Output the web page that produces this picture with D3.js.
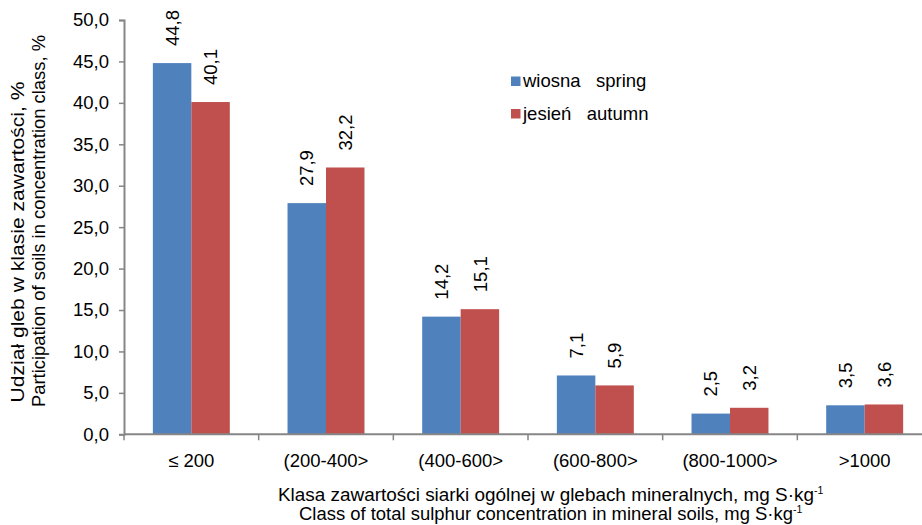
<!DOCTYPE html>
<html>
<head>
<meta charset="utf-8">
<script src="https://cdn.jsdelivr.net/npm/d3@7"></script>
<style>
  html, body { margin: 0; padding: 0; background: #fff; }
  svg { display: block; font-family: "Liberation Sans", Arial, sans-serif; }
</style>
</head>
<body>
<svg id="chart" width="922" height="525"></svg>
<script>
// Sulphur concentration classes and share of soils (%) per season
const categories = ["≤ 200", "(200-400>", "(400-600>", "(600-800>", "(800-1000>", ">1000"];
const spring = [44.8, 27.9, 14.2, 7.1, 2.5, 3.5];
const autumn = [40.1, 32.2, 15.1, 5.9, 3.2, 3.6];
const seriesNames = ["wiosna   spring", "jesień   autumn"];
const yTicks = [0, 5, 10, 15, 20, 25, 30, 35, 40, 45, 50];

const colors = ["#4F81BD", "#C0504D"];
const axisColor = "#868686";
const fs = 18.5;
const fmt = v => d3.format(".1f")(v).replace(".", ",");

const svg = d3.select("#chart");
const plot = { left: 124, right: 932, top: 20, bottom: 434.3 };

const x = d3.scaleBand().domain(categories).range([plot.left, plot.right]).paddingInner(0).paddingOuter(0);
const inner = d3.scaleBand().domain([0, 1]).range([0, x.bandwidth()]).paddingInner(0).paddingOuter(0.75);
const y = d3.scaleLinear().domain([0, 50]).range([plot.bottom, plot.top]);

const series = [spring, autumn];

// bars
series.forEach((vals, si) => {
  svg.append("g").selectAll("rect").data(vals).join("rect")
    .attr("x", (d, i) => x(categories[i]) + inner(si))
    .attr("width", inner.bandwidth())
    .attr("y", d => y(d))
    .attr("height", d => y(0) - y(d))
    .attr("fill", colors[si]);
});

// value labels, rotated above bars
series.forEach((vals, si) => {
  svg.append("g").selectAll("text").data(vals).join("text")
    .attr("transform", (d, i) => {
      const cx = x(categories[i]) + inner(si) + inner.bandwidth() / 2;
      return `translate(${cx},${y(d) - 17}) rotate(-90)`;
    })
    .attr("dy", "0.36em")
    .attr("font-size", fs)
    .attr("fill", "#000")
    .text(d => fmt(d));
});

// y axis
const yAxis = d3.axisLeft(y).tickValues(yTicks).tickSize(5).tickPadding(10).tickFormat(fmt);
const gy = svg.append("g").attr("transform", `translate(${plot.left},0)`).call(yAxis);
gy.select(".domain").attr("stroke", axisColor).attr("stroke-width", 2);
gy.selectAll(".tick line").attr("stroke", axisColor).attr("stroke-width", 1.5);
gy.selectAll(".tick text").attr("font-size", fs).attr("fill", "#000")
  .attr("font-family", "Liberation Sans, Arial, sans-serif");

// x axis with boundary ticks
const gx = svg.append("g").attr("transform", `translate(0,${plot.bottom})`);
gx.append("line").attr("x1", plot.left).attr("x2", plot.right)
  .attr("stroke", axisColor).attr("stroke-width", 2);
const bounds = categories.map(c => x(c)).concat([plot.right]);
gx.selectAll("line.tk").data(bounds).join("line").attr("class", "tk")
  .attr("x1", d => d).attr("x2", d => d).attr("y1", 0).attr("y2", 6)
  .attr("stroke", axisColor).attr("stroke-width", 1.5);
gx.selectAll("text").data(categories).join("text")
  .attr("x", d => x(d) + x.bandwidth() / 2)
  .attr("y", 33)
  .attr("text-anchor", "middle")
  .attr("font-size", fs)
  .attr("fill", "#000")
  .text(d => d);

// legend
const legend = svg.append("g");
seriesNames.forEach((name, i) => {
  const ly = 87 + i * 32.5;
  legend.append("rect").attr("x", 511).attr("y", ly - 10.5).attr("width", 9.5).attr("height", 9.5).attr("fill", colors[i]);
  legend.append("text").attr("x", 523).attr("y", ly).attr("font-size", fs).attr("fill", "#000")
    .attr("xml:space", "preserve").style("white-space", "pre").text(name);
});

// y axis title (two lines)
const yTitles = ["Udział gleb w klasie zawartości, %", "Participation of soils in concentration class, %"];
const yTitleX = [24, 45];
const yTitleMid = [242, 221];
const yTitleLen = [321, 372];
yTitles.forEach((t, i) => {
  svg.append("text")
    .attr("transform", `translate(${yTitleX[i]},${yTitleMid[i]}) rotate(-90)`)
    .attr("text-anchor", "middle")
    .attr("font-size", 18.3)
    .attr("textLength", yTitleLen[i])
    .attr("lengthAdjust", "spacingAndGlyphs")
    .attr("fill", "#000")
    .text(t);
});

// x axis title (two lines with superscript)
const xTitles = ["Klasa zawartości siarki ogólnej w glebach mineralnych, mg S·kg", "Class of total sulphur concentration in mineral soils, mg S·kg"];
const xTitleLen = [536, 494];
xTitles.forEach((t, i) => {
  const g = svg.append("g");
  const tx = g.append("text")
    .attr("x", 550 - xTitleLen[i] / 2 - 4).attr("y", 500.5 + i * 19)
    .attr("font-size", 17.5)
    .attr("fill", "#000")
    .attr("textLength", xTitleLen[i])
    .attr("lengthAdjust", "spacingAndGlyphs")
    .text(t);
  g.append("text")
    .attr("x", 550 + xTitleLen[i] / 2 - 4).attr("y", 500.5 + i * 19 - 7)
    .attr("font-size", 10.5)
    .attr("fill", "#000")
    .text("-1");
});
</script>
</body>
</html>
